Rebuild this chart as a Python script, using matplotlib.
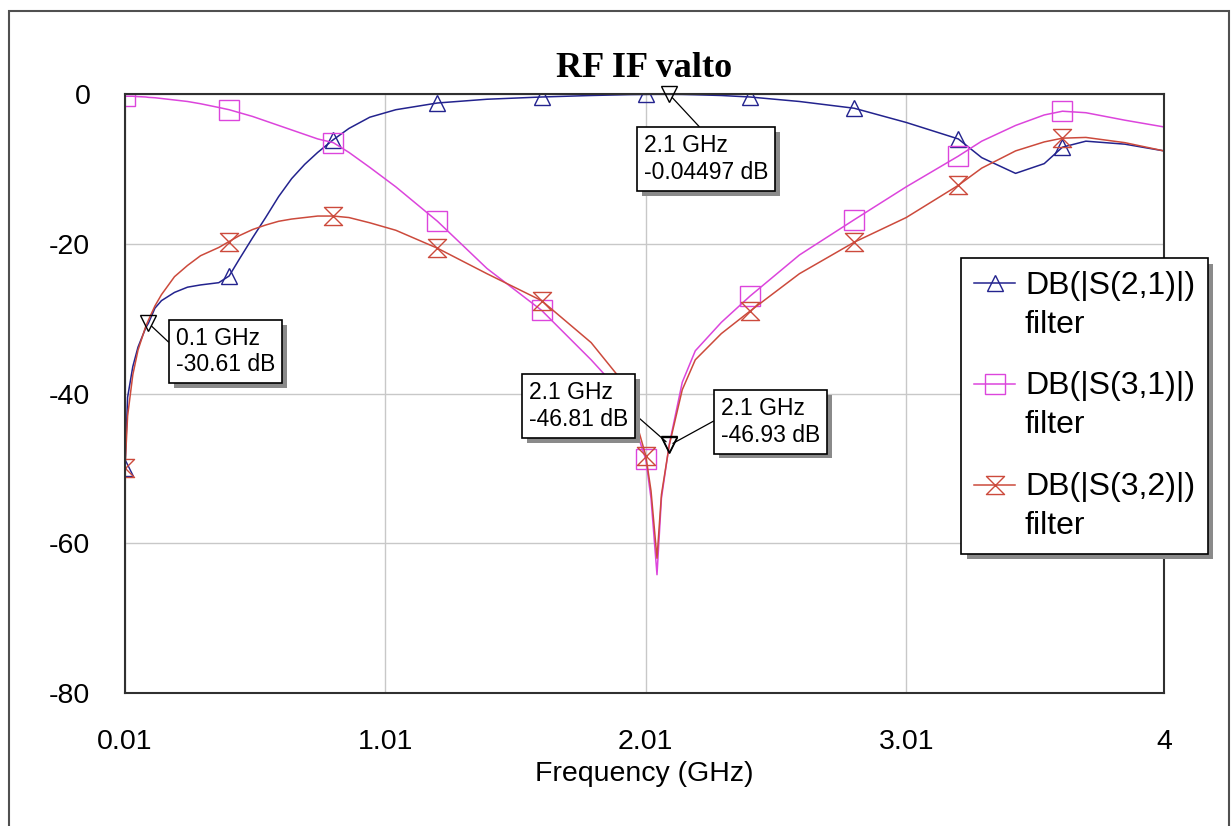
import matplotlib
matplotlib.use("Agg")
import matplotlib.pyplot as plt
import matplotlib.patheffects as pe
from matplotlib.path import Path
from matplotlib.patches import Rectangle

# swept frequency points (GHz) and the three filter responses (dB)
freq_ghz = [0.01, 0.02, 0.04, 0.06, 0.09, 0.1, 0.125, 0.15, 0.2, 0.25, 0.3,
            0.37, 0.41, 0.45, 0.5, 0.55, 0.6, 0.65, 0.7, 0.75, 0.81, 0.87,
            0.95, 1.05, 1.21, 1.4, 1.61, 1.8, 1.9, 1.95, 2.01, 2.03, 2.053,
            2.07, 2.1, 2.15, 2.2, 2.3, 2.41, 2.6, 2.81, 3.01, 3.21, 3.3,
            3.43, 3.54, 3.61, 3.7, 3.85, 4.0]

s21_db = [-50.0, -40.5, -36.4, -33.8, -31.2, -30.61, -28.6, -27.6, -26.5,
          -25.8, -25.5, -25.2, -24.3, -22.0, -19.2, -16.5, -13.7, -11.3,
          -9.4, -7.8, -6.1, -4.6, -3.1, -2.1, -1.2, -0.7, -0.4, -0.2, -0.12,
          -0.08, -0.06, -0.05, -0.045, -0.045, -0.04497, -0.06, -0.1, -0.2,
          -0.4, -1.0, -1.9, -3.8, -6.0, -8.5, -10.6, -9.3, -7.1, -6.3, -6.7,
          -7.6]

s31_db = [-0.3, -0.3, -0.3, -0.35, -0.4, -0.45, -0.5, -0.6, -0.8, -1.0,
          -1.3, -1.8, -2.1, -2.5, -3.0, -3.6, -4.2, -4.8, -5.4, -6.0, -6.5,
          -7.8, -9.8, -12.4, -17.0, -23.3, -28.9, -35.5, -39.3, -42.5,
          -48.8, -54.0, -64.2, -54.0, -46.81, -38.5, -34.3, -30.5, -27.0,
          -21.5, -16.8, -12.4, -8.3, -6.3, -4.2, -2.8, -2.3, -2.5, -3.5, -4.4]

s32_db = [-50.0, -43.0, -37.5, -34.2, -31.0, -30.2, -28.3, -26.8, -24.4,
          -22.9, -21.6, -20.5, -19.7, -18.9, -18.1, -17.5, -17.0, -16.7,
          -16.5, -16.3, -16.3, -16.5, -17.2, -18.2, -20.6, -24.0, -27.6,
          -33.2, -37.5, -41.0, -48.3, -53.0, -62.0, -53.5, -46.93, -39.5,
          -35.5, -32.0, -29.0, -24.0, -19.8, -16.5, -12.2, -9.9, -7.6, -6.4,
          -5.9, -5.8, -6.5, -7.6]

marker_ghz = [0.01, 0.41, 0.81, 1.21, 1.61, 2.01, 2.41, 2.81, 3.21, 3.61]

# marker readouts: (freq, value)
readouts = [(0.1, -30.61), (2.1, -0.04497), (2.1, -46.81), (2.1, -46.93)]

xtick_vals = [0.01, 1.01, 2.01, 3.01, 4]
xtick_labels = ["0.01", "1.01", "2.01", "3.01", "4"]
ytick_vals = [-80, -60, -40, -20, 0]

plt.rcParams["font.family"] = ["Liberation Sans", "DejaVu Sans"]
plt.rcParams["axes.unicode_minus"] = False

mark_idx = [freq_ghz.index(f) for f in marker_ghz]

hourglass = Path([(-1, 1), (1, 1), (-1, -1), (1, -1), (-1, 1)],
                 [Path.MOVETO, Path.LINETO, Path.LINETO, Path.LINETO,
                  Path.CLOSEPOLY])

fig = plt.figure(figsize=(12.31, 8.26), dpi=100)
ax = fig.add_axes([125 / 1231, 1 - 693 / 826, 1039 / 1231, 599 / 826])

ax.plot(freq_ghz, s21_db, color="#23238e", lw=1.1, marker="^", ms=12,
        mfc="none", mew=1.0, markevery=mark_idx, label="DB(|S(2,1)|)\nfilter")
ax.plot(freq_ghz, s31_db, color="#dc45dc", lw=1.1, marker="s", ms=14,
        mfc="none", mew=1.0, markevery=mark_idx, label="DB(|S(3,1)|)\nfilter")
ax.plot(freq_ghz, s32_db, color="#cc4a3c", lw=1.1, marker=hourglass, ms=13,
        mfc="none", mew=1.0, markevery=mark_idx, label="DB(|S(3,2)|)\nfilter")

ax.set_xlim(0.01, 4)
ax.set_ylim(-80, 0)
ax.set_xticks(xtick_vals)
ax.set_xticklabels(xtick_labels)
ax.set_yticks(ytick_vals)
ax.tick_params(length=0, labelsize=20.5)
ax.tick_params(axis="x", pad=26)
ax.tick_params(axis="y", pad=25)
ax.grid(True, color="#c8c8c8", lw=1.0)
ax.set_axisbelow(True)
for sp in ax.spines.values():
    sp.set_color("#303030")
    sp.set_linewidth(1.5)

ax.set_xlabel("Frequency (GHz)", fontsize=20.5)
ax.xaxis.set_label_coords(0.5, -0.113)
ax.set_title("RF IF valto", fontsize=26, fontweight="bold",
             family=["Liberation Serif", "DejaVu Serif"], pad=12)

# readout boxes with leader lines
box_pos = [(0.206, -34.4, (0, 0.55)), (2.003, -8.68, (0.5, 1)),
           (1.561, -41.67, (1, 0.45)), (2.299, -43.8, (0, 0.6))]
for (f, db), (tx, ty, rp) in zip(readouts, box_pos):
    ax.plot([f], [db], marker="v", ms=12, mfc="none", mec="black", mew=1.0,
            clip_on=False, zorder=5)
    ann = ax.annotate(f"{f:g} GHz\n{db:.4g} dB", xy=(f, db), xytext=(tx, ty),
                      ha="left", va="center", fontsize=16.5, zorder=6,
                      bbox=dict(boxstyle="square,pad=0.3", fc="white",
                                ec="black", lw=1.2),
                      arrowprops=dict(arrowstyle="-", color="black", lw=0.9,
                                      shrinkA=0, shrinkB=3, relpos=rp),
                      annotation_clip=False)
    ann.get_bbox_patch().set_path_effects(
        [pe.withSimplePatchShadow(offset=(3.5, -3.5), shadow_rgbFace="#8a8a8a",
                                  alpha=1)])

leg = ax.legend(loc="upper left", bbox_to_anchor=(961 / 1231, 1 - 258 / 826),
                bbox_transform=fig.transFigure, borderaxespad=0, fontsize=23,
                numpoints=1, handlelength=1.3, handleheight=1.0,
                handletextpad=0.3, borderpad=0.4, labelspacing=1.0,
                fancybox=False, framealpha=1, edgecolor="black")
leg.get_frame().set_linewidth(1.2)
leg.get_frame().set_path_effects(
    [pe.withSimplePatchShadow(offset=(4, -4), shadow_rgbFace="#8a8a8a", alpha=1)])
for t in leg.get_texts():
    t.set_linespacing(1.38)
for col in leg._legend_handle_box.get_children():
    for row in col.get_children():
        row.align = "top"

# outer frame around the whole plot
fig.patches.append(Rectangle((9 / 1231, -0.01), 1220 / 1231, 815 / 826 + 0.01,
                             transform=fig.transFigure, fill=False,
                             ec="#505050", lw=1.5))

fig.savefig("out.png", dpi=100)
